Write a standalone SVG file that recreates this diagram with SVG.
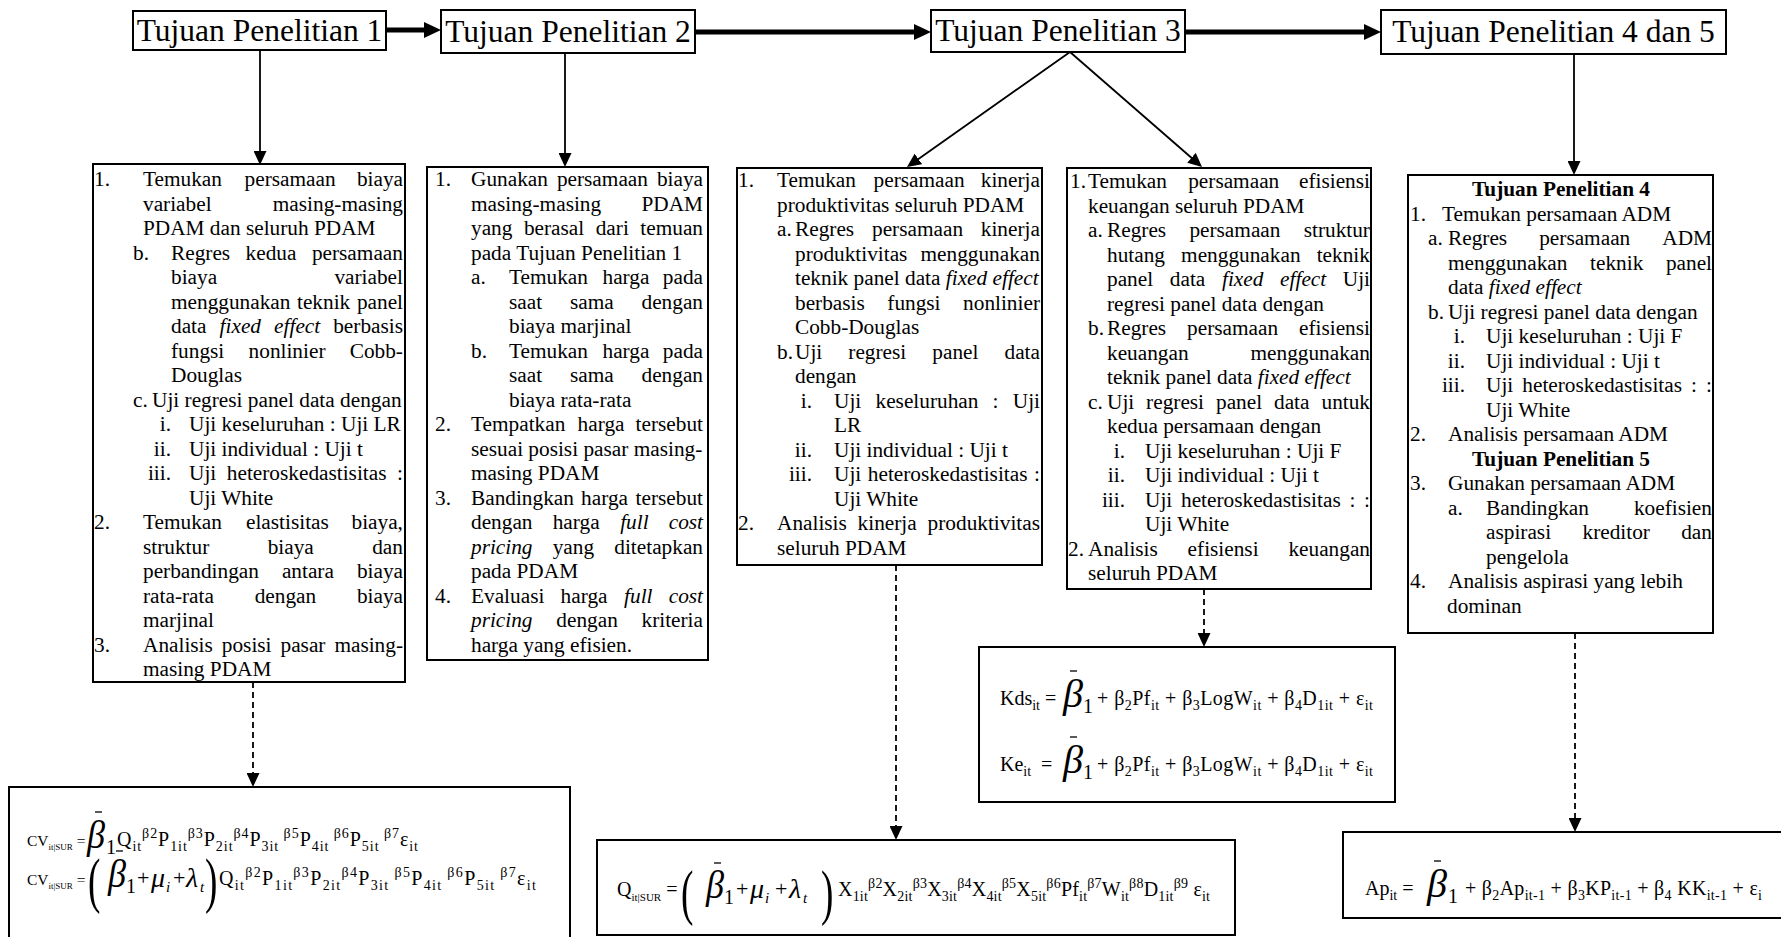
<svg xmlns="http://www.w3.org/2000/svg" width="1781" height="937" viewBox="0 0 1781 937">
<defs>
<style>
.bx{fill:#fff;stroke:#000;stroke-width:2}
.t{font-family:"Liberation Serif","Times New Roman",serif;font-size:21.3px;fill:#000}
.i{font-style:italic}
.b{font-weight:bold}
.h{font-family:"Liberation Serif","Times New Roman",serif;font-size:31.5px;fill:#000}
.f{font-family:"Liberation Serif","Times New Roman",serif;font-size:20px;fill:#000}
.fc{font-family:"Liberation Serif","Times New Roman",serif;font-size:15.5px;fill:#000}
.s{font-size:14px}
.sl{font-size:11px}
.sc{font-size:9px}
.bb{font-family:"Liberation Serif","Times New Roman",serif;font-style:italic;font-size:40px;fill:#000}
.one{font-family:"Liberation Serif","Times New Roman",serif;font-size:20px;fill:#000}
.g{font-family:"Liberation Serif","Times New Roman",serif;font-style:italic;font-size:28px;fill:#000}
.gs{font-family:"Liberation Serif","Times New Roman",serif;font-style:italic;font-size:15px;fill:#000}
.pl{font-family:"Liberation Serif","Times New Roman",serif;font-size:22px;fill:#000}
.par{font-family:"Liberation Serif","Times New Roman",serif;font-size:62px;fill:#000}
.cn{stroke:#000;stroke-width:1.8;fill:none}
.th{stroke:#000;stroke-width:5;fill:none}
.da{stroke-dasharray:6 4}
.bar{stroke:#000;stroke-width:1.3}
</style>
<marker id="ah" markerUnits="userSpaceOnUse" markerWidth="14" markerHeight="13" viewBox="0 0 14 13" refX="6" refY="6.5" orient="auto"><path d="M0,0 L14,6.5 L0,13 z" fill="#000"/></marker>
<marker id="ahT" markerUnits="userSpaceOnUse" markerWidth="17" markerHeight="16" viewBox="0 0 17 16" refX="7" refY="8" orient="auto"><path d="M0,0 L17,8 L0,16 z" fill="#000"/></marker>
</defs>
<rect width="1781" height="937" fill="#fff"/>

<g id="tp1"><rect class="bx" x="133" y="11" width="253" height="39"/><text class="h" x="259.5" y="41" text-anchor="middle">Tujuan Penelitian 1</text></g>
<g id="tp2"><rect class="bx" x="441" y="10" width="254" height="43"/><text class="h" x="568" y="42" text-anchor="middle">Tujuan Penelitian 2</text></g>
<g id="tp3"><rect class="bx" x="931" y="10" width="254" height="42"/><text class="h" x="1058" y="41" text-anchor="middle">Tujuan Penelitian 3</text></g>
<g id="tp45"><rect class="bx" x="1381" y="10" width="345" height="44"/><text class="h" x="1553.5" y="42" text-anchor="middle">Tujuan Penelitian 4 dan 5</text></g>

<g id="box1">
<rect class="bx" x="93" y="164" width="312" height="518"/>
<text class="t" y="186"><tspan x="94">1.</tspan><tspan x="143">Temukan</tspan><tspan x="244.6">persamaan</tspan><tspan x="356.9">biaya</tspan></text>
<text class="t" y="210.5"><tspan x="143">variabel</tspan><tspan x="272.8">masing-masing</tspan></text>
<text class="t" x="143" y="235">PDAM dan seluruh PDAM</text>
<text class="t" y="259.5"><tspan x="133">b.</tspan><tspan x="171">Regres</tspan><tspan x="245.6">kedua</tspan><tspan x="311.9">persamaan</tspan></text>
<text class="t" y="284"><tspan x="171">biaya</tspan><tspan x="334.4">variabel</tspan></text>
<text class="t" y="308.5"><tspan x="171">menggunakan</tspan><tspan x="297">teknik</tspan><tspan x="356.9">panel</tspan></text>
<text class="t" y="333"><tspan x="171">data</tspan><tspan class="i" x="219.6">fixed</tspan><tspan class="i" x="274.1">effect</tspan><tspan x="333.2">berbasis</tspan></text>
<text class="t" y="357.5"><tspan x="171">fungsi</tspan><tspan x="248.6">nonlinier</tspan><tspan x="349.7">Cobb-</tspan></text>
<text class="t" x="171" y="382">Douglas</text>
<text class="t" y="406.5"><tspan x="133">c.</tspan><tspan x="152">Uji regresi panel data dengan</tspan></text>
<text class="t" y="431"><tspan x="171" text-anchor="end">i.</tspan><tspan x="189">Uji keseluruhan : Uji LR</tspan></text>
<text class="t" y="455.5"><tspan x="171" text-anchor="end">ii.</tspan><tspan x="189">Uji individual : Uji t</tspan></text>
<text class="t" y="480"><tspan x="171" text-anchor="end">iii.</tspan><tspan x="189">Uji</tspan><tspan x="226.8">heteroskedastisitas</tspan><tspan x="397.1">:</tspan></text>
<text class="t" x="189" y="504.5">Uji White</text>
<text class="t" y="529"><tspan x="94">2.</tspan><tspan x="143">Temukan</tspan><tspan x="246">elastisitas</tspan><tspan x="351.5">biaya,</tspan></text>
<text class="t" y="553.5"><tspan x="143">struktur</tspan><tspan x="267.7">biaya</tspan><tspan x="372.2">dan</tspan></text>
<text class="t" y="578"><tspan x="143">perbandingan</tspan><tspan x="281.9">antara</tspan><tspan x="356.9">biaya</tspan></text>
<text class="t" y="602.5"><tspan x="143">rata-rata</tspan><tspan x="254.7">dengan</tspan><tspan x="356.9">biaya</tspan></text>
<text class="t" x="143" y="627">marjinal</text>
<text class="t" y="651.5"><tspan x="94">3.</tspan><tspan x="143">Analisis</tspan><tspan x="221.8">posisi</tspan><tspan x="280.5">pasar</tspan><tspan x="334.4">masing-</tspan></text>
<text class="t" x="143" y="676">masing PDAM</text>
</g>

<g id="box2">
<rect class="bx" x="427" y="167" width="281" height="493"/>
<text class="t" y="186"><tspan x="435">1.</tspan><tspan x="471">Gunakan</tspan><tspan x="556.9">persamaan</tspan><tspan x="656.9">biaya</tspan></text>
<text class="t" y="210.5"><tspan x="471">masing-masing</tspan><tspan x="641.5">PDAM</tspan></text>
<text class="t" y="235"><tspan x="471">yang</tspan><tspan x="523.9">berasal</tspan><tspan x="595.7">dari</tspan><tspan x="640.3">temuan</tspan></text>
<text class="t" x="471" y="259.5">pada Tujuan Penelitian 1</text>
<text class="t" y="284"><tspan x="471">a.</tspan><tspan x="509">Temukan</tspan><tspan x="602.5">harga</tspan><tspan x="662.8">pada</tspan></text>
<text class="t" y="308.5"><tspan x="509">saat</tspan><tspan x="569.9">sama</tspan><tspan x="641.5">dengan</tspan></text>
<text class="t" x="509" y="333">biaya marjinal</text>
<text class="t" y="357.5"><tspan x="471">b.</tspan><tspan x="509">Temukan</tspan><tspan x="602.5">harga</tspan><tspan x="662.8">pada</tspan></text>
<text class="t" y="382"><tspan x="509">saat</tspan><tspan x="569.9">sama</tspan><tspan x="641.5">dengan</tspan></text>
<text class="t" x="509" y="406.5">biaya rata-rata</text>
<text class="t" y="431"><tspan x="435">2.</tspan><tspan x="471">Tempatkan</tspan><tspan x="577.6">harga</tspan><tspan x="635.6">tersebut</tspan></text>
<text class="t" x="471" y="455.5">sesuai posisi pasar masing-</text>
<text class="t" x="471" y="480">masing PDAM</text>
<text class="t" y="504.5"><tspan x="435">3.</tspan><tspan x="471">Bandingkan</tspan><tspan x="581.1">harga</tspan><tspan x="635.6">tersebut</tspan></text>
<text class="t" y="529"><tspan x="471">dengan</tspan><tspan x="552.7">harga</tspan><tspan class="i" x="620.2">full</tspan><tspan class="i" x="668.7">cost</tspan></text>
<text class="t" y="553.5"><tspan class="i" x="471">pricing</tspan><tspan x="552.7">yang</tspan><tspan x="614.3">ditetapkan</tspan></text>
<text class="t" x="471" y="578">pada PDAM</text>
<text class="t" y="602.5"><tspan x="435">4.</tspan><tspan x="471">Evaluasi</tspan><tspan x="560.6">harga</tspan><tspan class="i" x="624.1">full</tspan><tspan class="i" x="668.7">cost</tspan></text>
<text class="t" y="627"><tspan class="i" x="471">pricing</tspan><tspan x="556.3">dengan</tspan><tspan x="641.5">kriteria</tspan></text>
<text class="t" x="471" y="651.5">harga yang efisien.</text>
</g>

<g id="box3">
<rect class="bx" x="737" y="168" width="305" height="397"/>
<text class="t" y="187"><tspan x="738">1.</tspan><tspan x="777">Temukan</tspan><tspan x="873.6">persamaan</tspan><tspan x="980.8">kinerja</tspan></text>
<text class="t" x="777" y="211.5">produktivitas seluruh PDAM</text>
<text class="t" y="236"><tspan x="777">a.</tspan><tspan x="795">Regres</tspan><tspan x="872">persamaan</tspan><tspan x="980.8">kinerja</tspan></text>
<text class="t" y="260.5"><tspan x="795">produktivitas</tspan><tspan x="920.5">menggunakan</tspan></text>
<text class="t" x="795" y="285">teknik panel data <tspan class="i">fixed effect</tspan></text>
<text class="t" y="309.5"><tspan x="795">berbasis</tspan><tspan x="887.3">fungsi</tspan><tspan x="963.1">nonlinier</tspan></text>
<text class="t" x="795" y="334">Cobb-Douglas</text>
<text class="t" y="358.5"><tspan x="777">b.</tspan><tspan x="795">Uji</tspan><tspan x="848.3">regresi</tspan><tspan x="932.3">panel</tspan><tspan x="1004.5">data</tspan></text>
<text class="t" x="795" y="383">dengan</text>
<text class="t" y="407.5"><tspan x="812" text-anchor="end">i.</tspan><tspan x="834">Uji</tspan><tspan x="875.5">keseluruhan</tspan><tspan x="992.6">:</tspan><tspan x="1012.8">Uji</tspan></text>
<text class="t" x="834" y="432">LR</text>
<text class="t" y="456.5"><tspan x="812" text-anchor="end">ii.</tspan><tspan x="834">Uji individual : Uji t</tspan></text>
<text class="t" y="481"><tspan x="812" text-anchor="end">iii.</tspan><tspan x="834">Uji</tspan><tspan x="867.8">heteroskedastisitas</tspan><tspan x="1034.1">:</tspan></text>
<text class="t" x="834" y="505.5">Uji White</text>
<text class="t" y="530"><tspan x="738">2.</tspan><tspan x="777">Analisis</tspan><tspan x="857.6">kinerja</tspan><tspan x="927.6">produktivitas</tspan></text>
<text class="t" x="777" y="554.5">seluruh PDAM</text>
</g>

<g id="box4">
<rect class="bx" x="1067" y="168" width="304" height="421"/>
<text class="t" y="188"><tspan x="1070">1.</tspan><tspan x="1088">Temukan</tspan><tspan x="1188.2">persamaan</tspan><tspan x="1299">efisiensi</tspan></text>
<text class="t" x="1088" y="212.5">keuangan seluruh PDAM</text>
<text class="t" y="237"><tspan x="1088">a.</tspan><tspan x="1107">Regres</tspan><tspan x="1189.4">persamaan</tspan><tspan x="1303.7">struktur</tspan></text>
<text class="t" y="261.5"><tspan x="1107">hutang</tspan><tspan x="1181.1">menggunakan</tspan><tspan x="1316.7">teknik</tspan></text>
<text class="t" y="286"><tspan x="1107">panel</tspan><tspan x="1169.8">data</tspan><tspan class="i" x="1222">fixed</tspan><tspan class="i" x="1280.1">effect</tspan><tspan x="1342.8">Uji</tspan></text>
<text class="t" x="1107" y="310.5">regresi panel data dengan</text>
<text class="t" y="335"><tspan x="1088">b.</tspan><tspan x="1107">Regres</tspan><tspan x="1187.1">persamaan</tspan><tspan x="1299">efisiensi</tspan></text>
<text class="t" y="359.5"><tspan x="1107">keuangan</tspan><tspan x="1250.5">menggunakan</tspan></text>
<text class="t" x="1107" y="384">teknik panel data <tspan class="i">fixed effect</tspan></text>
<text class="t" y="408.5"><tspan x="1088">c.</tspan><tspan x="1107">Uji</tspan><tspan x="1146.1">regresi</tspan><tspan x="1216">panel</tspan><tspan x="1274">data</tspan><tspan x="1321.5">untuk</tspan></text>
<text class="t" x="1107" y="433">kedua persamaan dengan</text>
<text class="t" y="457.5"><tspan x="1125" text-anchor="end">i.</tspan><tspan x="1145">Uji keseluruhan : Uji F</tspan></text>
<text class="t" y="482"><tspan x="1125" text-anchor="end">ii.</tspan><tspan x="1145">Uji individual : Uji t</tspan></text>
<text class="t" y="506.5"><tspan x="1125" text-anchor="end">iii.</tspan><tspan x="1145">Uji</tspan><tspan x="1181">heteroskedastisitas</tspan><tspan x="1349.4">:</tspan><tspan x="1364.1">:</tspan></text>
<text class="t" x="1145" y="531">Uji White</text>
<text class="t" y="555.5"><tspan x="1068">2.</tspan><tspan x="1088">Analisis</tspan><tspan x="1187.6">efisiensi</tspan><tspan x="1288.4">keuangan</tspan></text>
<text class="t" x="1088" y="580">seluruh PDAM</text>
</g>

<g id="box5">
<rect class="bx" x="1408" y="175" width="305" height="458"/>
<text class="t b" x="1561" y="196" text-anchor="middle">Tujuan Penelitian 4</text>
<text class="t" y="220.5"><tspan x="1410">1.</tspan><tspan x="1442">Temukan persamaan ADM</tspan></text>
<text class="t" y="245"><tspan x="1428">a.</tspan><tspan x="1448">Regres</tspan><tspan x="1539.2">persamaan</tspan><tspan x="1662.3">ADM</tspan></text>
<text class="t" y="269.5"><tspan x="1448">menggunakan</tspan><tspan x="1590.1">teknik</tspan><tspan x="1665.9">panel</tspan></text>
<text class="t" x="1448" y="294">data <tspan class="i">fixed effect</tspan></text>
<text class="t" y="318.5"><tspan x="1428">b.</tspan><tspan x="1448">Uji regresi panel data dengan</tspan></text>
<text class="t" y="343"><tspan x="1465" text-anchor="end">i.</tspan><tspan x="1486">Uji keseluruhan : Uji F</tspan></text>
<text class="t" y="367.5"><tspan x="1465" text-anchor="end">ii.</tspan><tspan x="1486">Uji individual : Uji t</tspan></text>
<text class="t" y="392"><tspan x="1465" text-anchor="end">iii.</tspan><tspan x="1486">Uji</tspan><tspan x="1522.3">heteroskedastisitas</tspan><tspan x="1691.1">:</tspan><tspan x="1706.1">:</tspan></text>
<text class="t" x="1486" y="416.5">Uji White</text>
<text class="t" y="441"><tspan x="1410">2.</tspan><tspan x="1448">Analisis persamaan ADM</tspan></text>
<text class="t b" x="1561" y="465.5" text-anchor="middle">Tujuan Penelitian 5</text>
<text class="t" y="490"><tspan x="1410">3.</tspan><tspan x="1448">Gunakan persamaan ADM</tspan></text>
<text class="t" y="514.5"><tspan x="1448">a.</tspan><tspan x="1486">Bandingkan</tspan><tspan x="1633.9">koefisien</tspan></text>
<text class="t" y="539"><tspan x="1486">aspirasi</tspan><tspan x="1582.5">kreditor</tspan><tspan x="1681.2">dan</tspan></text>
<text class="t" x="1486" y="563.5">pengelola</text>
<text class="t" y="588"><tspan x="1410">4.</tspan><tspan x="1448">Analisis aspirasi yang lebih</tspan></text>
<text class="t" x="1447" y="612.5">dominan</text>
</g>

<g id="eqCV">
<rect class="bx" x="9" y="787" width="561" height="160"/>
<text class="fc" x="27" y="846">CV<tspan class="sc" dy="4">it|SUR</tspan><tspan dy="-4"> =</tspan></text>
<line class="bar" x1="95" y1="812" x2="102" y2="812"/>
<text class="bb" x="87" y="848" textLength="18" lengthAdjust="spacingAndGlyphs">β</text><text class="one" x="106" y="854">1</text>
<text class="f" x="117" y="846" textLength="301" lengthAdjust="spacing">Q<tspan class="s" dy="5">it</tspan><tspan class="s" dy="-13">β2</tspan><tspan dy="8">P</tspan><tspan class="s" dy="5">1it</tspan><tspan class="s" dy="-13">β3</tspan><tspan dy="8">P</tspan><tspan class="s" dy="5">2it</tspan><tspan class="s" dy="-13">β4</tspan><tspan dy="8">P</tspan><tspan class="s" dy="5">3it</tspan><tspan class="s" dy="-13"> β5</tspan><tspan dy="8">P</tspan><tspan class="s" dy="5">4it</tspan><tspan class="s" dy="-13"> β6</tspan><tspan dy="8">P</tspan><tspan class="s" dy="5">5it</tspan><tspan class="s" dy="-13"> β7</tspan><tspan dy="8">ε</tspan><tspan class="s" dy="5">it</tspan></text>
<text class="fc" x="27" y="885">CV<tspan class="sc" dy="4">it|SUR</tspan><tspan dy="-4"> =</tspan></text>
<text class="par" transform="translate(88,901) scale(0.6,1)">(</text>
<line class="bar" x1="116" y1="851" x2="123" y2="851"/>
<text class="bb" x="108" y="887" textLength="18" lengthAdjust="spacingAndGlyphs">β</text><text class="one" x="126" y="893">1</text>
<text class="pl" x="137" y="885">+</text>
<text class="g" x="151" y="887">μ</text><text class="gs" x="166" y="892">i</text>
<text class="pl" x="173" y="885">+</text>
<text class="g" x="186" y="887">λ</text><text class="gs" x="200" y="892">t</text>
<text class="par" transform="translate(205,901) scale(0.6,1)">)</text>
<text class="f" x="219" y="885" textLength="317" lengthAdjust="spacing">Q<tspan class="s" dy="5">it</tspan><tspan class="s" dy="-13">β2</tspan><tspan dy="8">P</tspan><tspan class="s" dy="5">1it</tspan><tspan class="s" dy="-13">β3</tspan><tspan dy="8">P</tspan><tspan class="s" dy="5">2it</tspan><tspan class="s" dy="-13">β4</tspan><tspan dy="8">P</tspan><tspan class="s" dy="5">3it</tspan><tspan class="s" dy="-13"> β5</tspan><tspan dy="8">P</tspan><tspan class="s" dy="5">4it</tspan><tspan class="s" dy="-13"> β6</tspan><tspan dy="8">P</tspan><tspan class="s" dy="5">5it</tspan><tspan class="s" dy="-13"> β7</tspan><tspan dy="8">ε</tspan><tspan class="s" dy="5">it</tspan></text>
</g>

<g id="eqQ">
<rect class="bx" x="597" y="840" width="638" height="95"/>
<text class="f" x="617" y="896">Q<tspan class="sl" dy="5">it|SUR</tspan><tspan dy="-5"> =</tspan></text>
<text class="par" transform="translate(681,913) scale(0.6,1)">(</text>
<line class="bar" x1="714" y1="863" x2="721" y2="863"/>
<text class="bb" x="706" y="898" textLength="18" lengthAdjust="spacingAndGlyphs">β</text><text class="one" x="724" y="904">1</text>
<text class="pl" x="736" y="896">+</text>
<text class="g" x="750" y="898">μ</text><text class="gs" x="765" y="903">i</text>
<text class="pl" x="775" y="896">+</text>
<text class="g" x="789" y="898">λ</text><text class="gs" x="803" y="903">t</text>
<text class="par" transform="translate(821,913) scale(0.6,1)">)</text>
<text class="f" x="838" y="896" textLength="372" lengthAdjust="spacing">X<tspan class="s" dy="5">1it</tspan><tspan class="s" dy="-13">β2</tspan><tspan dy="8">X</tspan><tspan class="s" dy="5">2it</tspan><tspan class="s" dy="-13">β3</tspan><tspan dy="8">X</tspan><tspan class="s" dy="5">3it</tspan><tspan class="s" dy="-13">β4</tspan><tspan dy="8">X</tspan><tspan class="s" dy="5">4it</tspan><tspan class="s" dy="-13">β5</tspan><tspan dy="8">X</tspan><tspan class="s" dy="5">5it</tspan><tspan class="s" dy="-13">β6</tspan><tspan dy="8">Pf</tspan><tspan class="s" dy="5">it</tspan><tspan class="s" dy="-13">β7</tspan><tspan dy="8">W</tspan><tspan class="s" dy="5">it</tspan><tspan class="s" dy="-13">β8</tspan><tspan dy="8">D</tspan><tspan class="s" dy="5">1it</tspan><tspan class="s" dy="-13">β9</tspan><tspan dy="8"> ε</tspan><tspan class="s" dy="5">it</tspan></text>
</g>

<g id="eqK">
<rect class="bx" x="979" y="647" width="416" height="155"/>
<text class="f" x="1000" y="705">Kds<tspan class="s" dy="5">it</tspan><tspan dy="-5"> =</tspan></text>
<line class="bar" x1="1070" y1="671" x2="1077" y2="671"/>
<text class="bb" x="1063" y="707" textLength="20" lengthAdjust="spacingAndGlyphs">β</text><text class="one" x="1083" y="713">1</text>
<text class="f" x="1097" y="705" textLength="276" lengthAdjust="spacing">+ β<tspan class="s" dy="5">2</tspan><tspan dy="-5">Pf</tspan><tspan class="s" dy="5">it</tspan><tspan dy="-5"> + β</tspan><tspan class="s" dy="5">3</tspan><tspan dy="-5">LogW</tspan><tspan class="s" dy="5">it</tspan><tspan dy="-5"> + β</tspan><tspan class="s" dy="5">4</tspan><tspan dy="-5">D</tspan><tspan class="s" dy="5">1it</tspan><tspan dy="-5"> + ε</tspan><tspan class="s" dy="5">it</tspan></text>
<text class="f" x="1000" y="771">Ke<tspan class="s" dy="5">it</tspan><tspan dy="-5"> &#160;=</tspan></text>
<line class="bar" x1="1070" y1="737" x2="1077" y2="737"/>
<text class="bb" x="1063" y="773" textLength="20" lengthAdjust="spacingAndGlyphs">β</text><text class="one" x="1083" y="779">1</text>
<text class="f" x="1097" y="771" textLength="276" lengthAdjust="spacing">+ β<tspan class="s" dy="5">2</tspan><tspan dy="-5">Pf</tspan><tspan class="s" dy="5">it</tspan><tspan dy="-5"> + β</tspan><tspan class="s" dy="5">3</tspan><tspan dy="-5">LogW</tspan><tspan class="s" dy="5">it</tspan><tspan dy="-5"> + β</tspan><tspan class="s" dy="5">4</tspan><tspan dy="-5">D</tspan><tspan class="s" dy="5">1it</tspan><tspan dy="-5"> + ε</tspan><tspan class="s" dy="5">it</tspan></text>
</g>

<g id="eqAp">
<rect class="bx" x="1343" y="832" width="445" height="86"/>
<text class="f" x="1365" y="895">Ap<tspan class="s" dy="5">it</tspan><tspan dy="-5"> =</tspan></text>
<line class="bar" x1="1434" y1="861" x2="1441" y2="861"/>
<text class="bb" x="1427" y="897" textLength="20" lengthAdjust="spacingAndGlyphs">β</text><text class="one" x="1448" y="903">1</text>
<text class="f" x="1465" y="895" textLength="297" lengthAdjust="spacing">+ β<tspan class="s" dy="5">2</tspan><tspan dy="-5">Ap</tspan><tspan class="s" dy="5">it-1</tspan><tspan dy="-5"> + β</tspan><tspan class="s" dy="5">3</tspan><tspan dy="-5">KP</tspan><tspan class="s" dy="5">it-1</tspan><tspan dy="-5"> + β</tspan><tspan class="s" dy="5">4</tspan><tspan dy="-5"> KK</tspan><tspan class="s" dy="5">it-1</tspan><tspan dy="-5"> + ε</tspan><tspan class="s" dy="5">i</tspan></text>
</g>

<g id="connectors">
<line class="th" x1="386" y1="30" x2="431" y2="30" marker-end="url(#ahT)"/>
<line class="th" x1="695" y1="32" x2="921" y2="32" marker-end="url(#ahT)"/>
<line class="th" x1="1185" y1="32" x2="1371" y2="32" marker-end="url(#ahT)"/>
<line class="cn" x1="260" y1="50" x2="260" y2="157" marker-end="url(#ah)"/>
<line class="cn" x1="565" y1="53" x2="565" y2="159" marker-end="url(#ah)"/>
<line class="cn" x1="1070" y1="52" x2="913.5" y2="162.4" marker-end="url(#ah)"/>
<line class="cn" x1="1070" y1="52" x2="1196" y2="161.7" marker-end="url(#ah)"/>
<line class="cn" x1="1574" y1="54" x2="1574" y2="167" marker-end="url(#ah)"/>
<line class="cn da" x1="253" y1="682" x2="253" y2="779" marker-end="url(#ah)"/>
<line class="cn da" x1="896" y1="565" x2="896" y2="832" marker-end="url(#ah)"/>
<line class="cn da" x1="1204" y1="589" x2="1204" y2="639" marker-end="url(#ah)"/>
<line class="cn da" x1="1575" y1="633" x2="1575" y2="824" marker-end="url(#ah)"/>
</g>
</svg>
